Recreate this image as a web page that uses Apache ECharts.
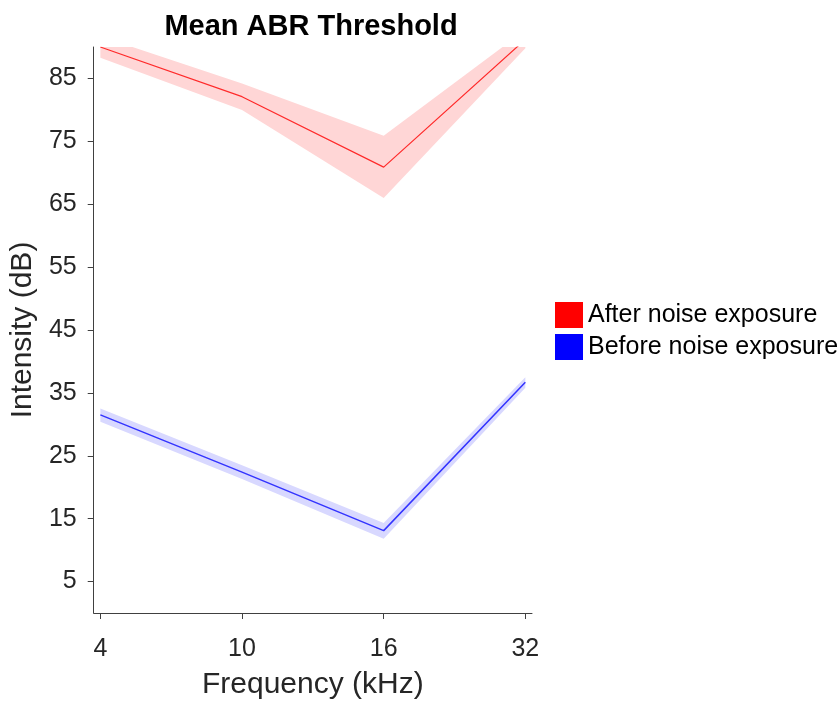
<!DOCTYPE html>
<html>
<head>
<meta charset="utf-8">
<script src="https://cdn.jsdelivr.net/npm/echarts@6/dist/echarts.min.js"></script>
<style>
html,body{margin:0;padding:0;background:#fff;}
#chart{width:839px;height:705px;}
</style>
</head>
<body>
<div id="chart"></div>
<script>
// Data
const freqLabels = ['4', '10', '16', '32'];
const freqPos = [0, 1, 2, 3];
const yTicks = [5, 15, 25, 35, 45, 55, 65, 75, 85];

const afterMean  = [90.0, 82.1, 70.9, 91.2];
const afterLower = [88.3, 80.0, 66.0, 89.8];
const afterUpper = [91.7, 84.2, 75.9, 92.7];

const beforeMean  = [31.5, 22.4, 13.1, 36.7];
const beforeLower = [30.4, 21.3, 11.8, 35.8];
const beforeUpper = [32.5, 23.5, 14.3, 37.5];

const pairs = (vals) => vals.map((v, i) => [freqPos[i], v]);
const bandData = (lo, hi) => lo.map((v, i) => [freqPos[i], v, hi[i]]);

function makeBand(lo, hi, fill) {
  const d = bandData(lo, hi);
  return {
    type: 'custom',
    data: d,
    clip: true,
    silent: true,
    encode: {x: 0, y: [1, 2]},
    renderItem: function (params, api) {
      if (params.dataIndex !== 0) return null;
      const upper = d.map(p => api.coord([p[0], p[2]]));
      const lower = d.map(p => api.coord([p[0], p[1]])).reverse();
      return {
        type: 'polygon',
        shape: {points: upper.concat(lower)},
        style: {fill: fill},
        silent: true
      };
    }
  };
}

const chart = echarts.init(document.getElementById('chart'), null, {renderer: 'canvas'});
const FONT = 'Liberation Sans, Arial, sans-serif';

const option = {
  backgroundColor: '#ffffff',
  animation: false,
  title: {
    text: 'Mean ABR Threshold',
    left: 306,
    top: 7,
    textAlign: 'center',
    textStyle: {fontFamily: FONT, fontSize: 29, fontWeight: 'bold', color: '#000'}
  },
  legend: {
    orient: 'vertical',
    left: 555,
    top: 302,
    padding: 0,
    itemWidth: 28,
    itemHeight: 26,
    itemGap: 6,
    icon: 'rect',
    data: [
      {name: 'After noise exposure', itemStyle: {color: '#ff0000'}},
      {name: 'Before noise exposure', itemStyle: {color: '#0000ff'}}
    ],
    textStyle: {fontFamily: FONT, fontSize: 25, color: '#000'}
  },
  grid: {left: 92, right: 307, top: 47, bottom: 90, containLabel: false},
  xAxis: {
    type: 'value',
    min: -0.047,
    max: 3.047,
    name: 'Frequency (kHz)',
    nameLocation: 'middle',
    nameGap: 57,
    nameTextStyle: {fontFamily: FONT, fontSize: 30, color: '#262626'},
    axisLine: {show: true, onZero: false, lineStyle: {color: '#404040', width: 1}},
    axisTick: {show: true, inside: false, length: 6, customValues: freqPos, lineStyle: {color: '#404040'}},
    axisLabel: {
      customValues: freqPos,
      margin: 24,
      fontFamily: FONT, fontSize: 25, color: '#262626',
      formatter: (v) => freqLabels[Math.round(v)]
    },
    splitLine: {show: false}
  },
  yAxis: {
    type: 'value',
    min: 0,
    max: 90,
    name: 'Intensity (dB)',
    nameLocation: 'middle',
    nameGap: 47,
    nameTextStyle: {fontFamily: FONT, fontSize: 30, color: '#262626'},
    axisLine: {show: true, onZero: false, lineStyle: {color: '#404040', width: 1}},
    axisTick: {show: true, inside: false, length: 6, customValues: yTicks, lineStyle: {color: '#404040'}},
    axisLabel: {customValues: yTicks, margin: 17, fontFamily: FONT, fontSize: 25, color: '#262626'},
    splitLine: {show: false}
  },
  series: [
    makeBand(afterLower, afterUpper, '#ffd6d6'),
    makeBand(beforeLower, beforeUpper, '#d8d8ff'),
    {
      name: 'After noise exposure', type: 'line', data: pairs(afterMean),
      symbol: 'none', color: '#ff0000', lineStyle: {color: '#ff2a2a', width: 1.2}, clip: true
    },
    {
      name: 'Before noise exposure', type: 'line', data: pairs(beforeMean),
      symbol: 'none', color: '#0000ff', lineStyle: {color: '#3333ff', width: 1.5}, clip: true
    }
  ]
};
chart.setOption(option);
</script>
</body>
</html>
